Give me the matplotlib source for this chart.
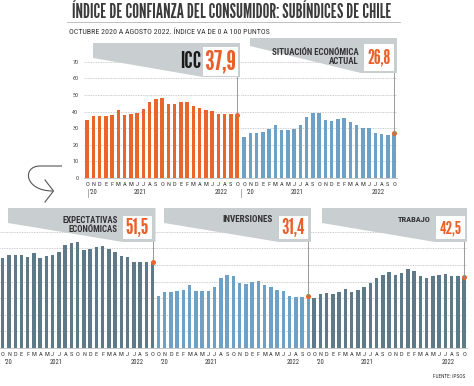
import matplotlib
matplotlib.use("Agg")
import matplotlib.pyplot as plt
from matplotlib.patches import Polygon, Rectangle, PathPatch
from matplotlib.path import Path
from matplotlib.transforms import Affine2D

# --- data ---
months = ['O', 'N', 'D', 'E', 'F', 'M', 'A', 'M', 'J', 'J', 'A', 'S',
          'O', 'N', 'D', 'E', 'F', 'M', 'A', 'M', 'J', 'J', 'A', 'S', 'O']
years = ["'20", '2021', '2022']
year_pos = [1, 8.5, 21.5]

icc = [34.9, 37.3, 37.3, 37.3, 38.0, 40.8, 38.0, 38.6, 39.3, 41.4, 45.5, 47.6, 48.0,
       44.4, 44.6, 45.8, 45.8, 43.6, 42.0, 41.0, 40.5, 38.6, 38.6, 38.4, 37.9]
sit_actual = [24.5, 26.8, 27.0, 27.7, 29.2, 32.0, 28.7, 28.7, 29.3, 31.9, 37.0, 39.4, 39.1,
              34.9, 34.3, 35.5, 36.1, 33.7, 31.7, 30.3, 29.9, 27.3, 26.5, 26.1, 26.8]
expectativas = [53.9, 55.9, 55.7, 55.7, 54.9, 57.2, 54.3, 55.3, 55.7, 57.9, 62.0, 63.2, 63.6,
                59.1, 59.6, 60.8, 61.5, 59.6, 57.5, 55.5, 54.5, 51.9, 51.9, 51.9, 51.5]
inversiones = [31.5, 33.5, 33.5, 34.1, 35.1, 38.0, 34.4, 34.4, 34.4, 36.5, 41.9, 44.0, 43.4,
               39.4, 38.8, 40.0, 40.6, 38.0, 36.5, 34.9, 34.1, 31.5, 30.7, 30.7, 31.4]
trabajo = [30.3, 32.7, 33.0, 32.5, 33.6, 35.7, 33.9, 34.8, 36.9, 39.0, 42.0, 44.2, 45.8,
           43.8, 45.2, 47.4, 46.2, 43.4, 42.4, 43.2, 43.8, 44.4, 43.4, 43.4, 42.5]

labels = ['ICC', 'SITUACIÓN ECONÓMICA\nACTUAL', 'EXPECTATIVAS\nECONÓMICAS', 'INVERSIONES', 'TRABAJO']
last_values = ['37,9', '26,8', '51,5', '31,4', '42,5']

W, H = 474, 386
ORANGE = '#e8662c'
BLUE = '#6da2c6'
SLATE = '#5e7987'
HEAD = '#c9ced1'
DARK = '#333333'

HEAD_FONT = ['League Gothic', 'Oswald', 'DejaVu Sans']
NUM_FONT = ['Oswald', 'League Gothic', 'DejaVu Sans']
COND_FONT = ['Roboto Condensed', 'Open Sans Condensed', 'DejaVu Sans']

fig = plt.figure(figsize=(W / 100, H / 100), dpi=100)
# pixel coordinates measured from the top-left corner
px = Affine2D().scale(1 / W, -1 / H).translate(0, 1) + fig.transFigure
renderer = fig.canvas.get_renderer()


def fit(t, width):
    """scale a text so that it is `width` pixels wide"""
    bb = t.get_window_extent(renderer)
    t.set_fontsize(t.get_fontsize() * width / bb.width)
    return t


def ftext(x, y, s, **kw):
    return fig.text(x, y, s, transform=px, **kw)


# panel geometry in pixels: values, colour, left, top (=71), bottom (=0)
panels = [
    (icc, ORANGE, 84.0, 60, 178),
    (sit_actual, BLUE, 241.0, 60, 178),
    (expectativas, SLATE, -0.4, 230, 348),
    (inversiones, BLUE, 155.3, 230, 348),
    (trabajo, SLATE, 311.0, 230, 348),
]
PW = 156.2
YMAX = 71

for k, (vals, col, left, top, bot) in enumerate(panels):
    ax = fig.add_axes([left / W, 1 - bot / H, PW / W, (bot - top) / H])
    ax.patch.set_alpha(0)
    x = list(range(len(vals)))
    ax.bar(x, vals, width=0.55, color=col, zorder=2)
    ax.set_xlim(-0.5, 24.5)
    ax.set_ylim(0, YMAX)
    ax.set_yticks(range(0, 71, 10))
    ax.yaxis.grid(True, color='#bdbdbd', linestyle=(0, (1, 1)), linewidth=0.6, zorder=0)
    for s in ['top', 'right', 'left']:
        ax.spines[s].set_visible(False)
    ax.spines['bottom'].set_color('#b0b0b0')
    ax.spines['bottom'].set_linewidth(0.5)
    ax.set_xticks(x)
    ax.set_xticklabels(months, family=COND_FONT, fontsize=4.6, color=DARK)
    ax.tick_params(axis='x', length=0, pad=3.2)
    if k == 0:
        ax.tick_params(axis='y', length=0, pad=4, labelsize=4.4, labelcolor='#444444')
        for lb in ax.get_yticklabels():
            lb.set_family(COND_FONT)
    else:
        ax.tick_params(axis='y', length=0, labelleft=False)
    for yl, yp in zip(years, year_pos):
        ax.text(yp, -15 / (bot - top), yl, transform=ax.get_xaxis_transform(),
                ha='center', va='center', fontsize=4.8, family=COND_FONT, color=DARK)
    # marker on the latest value
    ax.plot([24], [vals[-1]], 'o', color=ORANGE, ms=2.6, zorder=4, clip_on=False)

# headers: grey polygon, white value box, label
headers = [
    # poly, box(x0,y0,x1,y1), label right x, label y, label width, value width
    ([(93, 43), (240, 43), (240, 77), (203, 77), (93, 58)], (203, 47, 238, 76), 201, 62, 21, 31),
    ([(250, 38), (397, 38), (397, 73), (361, 73), (250, 46)], (364, 44, 394, 71), 359, 57, 88, 23),
    ([(8, 208), (155.5, 208), (155.5, 242), (123, 242), (8, 223)], (123, 216, 152, 239), 118, 225, 55, 23),
    ([(164, 208), (311, 208), (311, 242), (279, 242), (164, 223)], (279, 216, 308, 239), 273, 220, 51, 23),
    ([(322, 208), (467, 208), (467, 242), (435, 242), (322, 223)], (436, 216, 465, 239), 431, 220, 33, 22),
]
for k, (poly, box, lx, ly, lw, vw) in enumerate(headers):
    fig.patches.append(Polygon(poly, closed=True, transform=px, facecolor=HEAD,
                               edgecolor='none', zorder=5))
    x0, y0, x1, y1 = box
    fig.patches.append(Rectangle((x0, y0), x1 - x0, y1 - y0, transform=px,
                                 facecolor='white', edgecolor='none', zorder=6))
    # leader line from the box down to the last bar
    vals, col, left, top, bot = panels[k]
    bx = left + 24.5 * PW / 25
    ybar = bot - vals[-1] * (bot - top) / YMAX
    fig.lines.append(plt.Line2D([bx, bx], [y1, ybar], transform=px, color='#8a8a8a',
                                lw=0.6, zorder=4))
    vt = ftext((x0 + x1) / 2, (y0 + y1) / 2 + 0.5, last_values[k], ha='center', va='center',
               color='#e9602a', family=HEAD_FONT, fontsize=12, zorder=7)
    fit(vt, vw)
    if k == 0:
        t = ftext(lx, ly, labels[k], ha='right', va='center', color='#1a1a1a',
                  family=HEAD_FONT, fontsize=12, zorder=7)
    else:
        t = ftext(lx, ly, labels[k], ha='right', va='center', color=DARK, weight='bold',
                  family=COND_FONT, fontsize=5, zorder=7, linespacing=1.05)
    fit(t, lw)

# title block
t = ftext(72, 13, 'ÍNDICE DE CONFIANZA DEL CONSUMIDOR: SUBÍNDICES DE CHILE',
          ha='left', va='center', color='#3b3b3b', family=HEAD_FONT, fontsize=14)
fit(t, 320)
fig.lines.append(plt.Line2D([67, 400], [22, 22], transform=px, color='#b5b5b5', lw=0.6))
t = ftext(69, 32, 'OCTUBRE 2020 A AGOSTO 2022. ÍNDICE VA DE 0 A 100 PUNTOS',
          ha='left', va='center', color=DARK, family=COND_FONT, fontsize=5)
fit(t, 201)
t = ftext(465, 377, 'FUENTE: IPSOS', ha='right', va='center', color=DARK,
          family=COND_FONT, fontsize=4)
fit(t, 32)

# small separators in the top year row
for xs in [88, 241]:
    fig.lines.append(plt.Line2D([xs, xs], [189, 197], transform=px, color='#888888', lw=0.5))

# curved arrow between the rows
arrow = Path([(62, 166), (40, 166), (22, 166), (24, 191), (53, 191)],
             [Path.MOVETO, Path.LINETO, Path.CURVE4, Path.CURVE4, Path.CURVE4])
fig.patches.append(PathPatch(arrow, transform=px, facecolor='none', edgecolor='#555555', lw=0.8))
fig.lines.append(plt.Line2D([45, 53.5, 45], [180, 191, 202], transform=px, color='#555555', lw=0.8))

fig.savefig('out.png', dpi=100)
